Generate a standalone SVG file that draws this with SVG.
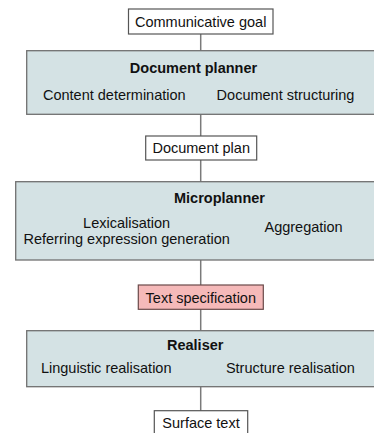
<svg xmlns="http://www.w3.org/2000/svg" width="374" height="433" viewBox="0 0 374 433">
  <style>
    .bg { fill: #ffffff; }
    .data { fill: #ffffff; stroke: #555555; stroke-width: 1.2; }
    .spec { fill: #f5b9b9; stroke: #6a4a4a; stroke-width: 1.2; }
    .stage { fill: #d4e2e4; stroke: #707070; stroke-width: 1.3; }
    .link { stroke: #7a7a7a; stroke-width: 1.5; fill: none; }
    text { font-family: "Liberation Sans", Arial, sans-serif; font-size: 14.5px; fill: #111111; text-anchor: middle; }
    .title { font-weight: bold; }
  </style>
  <rect class="bg" x="0" y="0" width="374" height="433"/>

  <!-- connectors between stages -->
  <g id="connectors">
    <line class="link" x1="200.7" y1="34" x2="200.7" y2="51"/>
    <line class="link" x1="200.7" y1="114" x2="200.7" y2="136"/>
    <line class="link" x1="200.7" y1="160" x2="200.7" y2="182"/>
    <line class="link" x1="200.7" y1="260" x2="200.7" y2="285"/>
    <line class="link" x1="200.7" y1="309" x2="200.7" y2="331"/>
    <line class="link" x1="200.7" y1="387" x2="200.7" y2="411"/>
  </g>

  <g id="communicative-goal">
    <rect class="data" x="128.5" y="9" width="144.5" height="25"/>
    <text x="200.7" y="26.5">Communicative goal</text>
  </g>

  <g id="document-planner">
    <rect class="stage" x="26.7" y="50.7" width="360" height="63.6"/>
    <text class="title" x="193.5" y="72.7">Document planner</text>
    <text x="114.3" y="100">Content determination</text>
    <text x="285.5" y="100">Document structuring</text>
  </g>

  <g id="document-plan">
    <rect class="data" x="145.7" y="136" width="111" height="24"/>
    <text x="201.2" y="153">Document plan</text>
  </g>

  <g id="microplanner">
    <rect class="stage" x="15.7" y="181.7" width="370" height="78.3"/>
    <text class="title" x="219.5" y="202.7">Microplanner</text>
    <text x="126.6" y="228">Lexicalisation</text>
    <text x="126.6" y="244">Referring expression generation</text>
    <text x="303.6" y="232">Aggregation</text>
  </g>

  <g id="text-specification">
    <rect class="spec" x="138.3" y="285" width="125" height="24.3"/>
    <text x="200.8" y="302.5">Text specification</text>
  </g>

  <g id="realiser">
    <rect class="stage" x="26.7" y="330.7" width="360" height="56"/>
    <text class="title" x="195.2" y="350">Realiser</text>
    <text x="106.2" y="372.7">Linguistic realisation</text>
    <text x="290.4" y="372.7">Structure realisation</text>
  </g>

  <g id="surface-text">
    <rect class="data" x="154.3" y="410.7" width="93.4" height="30"/>
    <text x="201" y="427.5">Surface text</text>
  </g>
</svg>
